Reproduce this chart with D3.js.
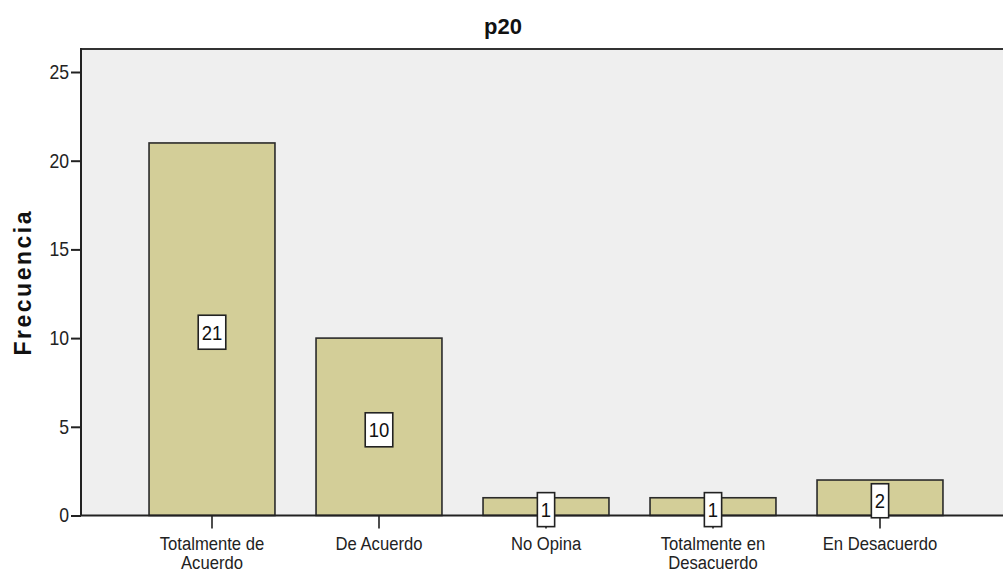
<!DOCTYPE html>
<html>
<head>
<meta charset="utf-8">
<script src="https://cdn.jsdelivr.net/npm/d3@7"></script>
<style>
  html, body { margin: 0; padding: 0; background: #fff; }
  svg { display: block; font-family: "Liberation Sans", Arial, sans-serif; }
</style>
</head>
<body>
<svg id="chart" width="1003" height="574"></svg>
<script>
// Frequency table for item p20
const categories = ["Totalmente de Acuerdo", "De Acuerdo", "No Opina", "Totalmente en Desacuerdo", "En Desacuerdo"];
const categoryLines = [["Totalmente de", "Acuerdo"], ["De Acuerdo"], ["No Opina"], ["Totalmente en", "Desacuerdo"], ["En Desacuerdo"]];
const frequencies = [21, 10, 1, 1, 2];
const yTicks = [0, 5, 10, 15, 20, 25];
const chartTitle = "p20";
const yTitle = "Frecuencia";

const svg = d3.select("#chart");
const W = 1003;
const plotLeft = 81, plotTop = 49, plotBottom = 515.5, plotRight = W;
const condense = 0.88; // horizontal squeeze for the condensed label face

const y = d3.scaleLinear().domain([0, 25]).range([plotBottom, 72]);
const x = d3.scaleBand().domain(categories).range([128.5, 963.5])
  .paddingInner(0.246).paddingOuter(0.123);

// plot background
svg.append("rect")
  .attr("x", plotLeft).attr("y", plotTop)
  .attr("width", plotRight - plotLeft).attr("height", plotBottom - plotTop)
  .attr("fill", "#efefef");

// frame: top edge
svg.append("line").attr("x1", plotLeft).attr("x2", plotRight)
  .attr("y1", plotTop).attr("y2", plotTop)
  .attr("stroke", "#333").attr("stroke-width", 2);

// bars
svg.append("g").selectAll("rect").data(frequencies).join("rect")
  .attr("x", (d, i) => x(categories[i]))
  .attr("y", d => y(d))
  .attr("width", x.bandwidth())
  .attr("height", d => y(0) - y(d))
  .attr("fill", "#d3ce98")
  .attr("stroke", "#2b2b2b")
  .attr("stroke-width", 1.6);

// y axis
const yAxis = svg.append("g")
  .attr("transform", `translate(${plotLeft},0)`)
  .call(d3.axisLeft(y).tickValues(yTicks).tickSize(10).tickPadding(0).tickSizeOuter(0));
yAxis.select(".domain").remove();
yAxis.selectAll(".tick line").attr("stroke", "#222").attr("stroke-width", 2);
yAxis.selectAll(".tick text")
  .attr("fill", "#222")
  .attr("x", null)
  .attr("transform", `translate(-12,0) scale(${condense},1)`)
  .style("font-size", "20px");
svg.append("line").attr("x1", plotLeft).attr("x2", plotLeft)
  .attr("y1", plotTop - 1).attr("y2", plotBottom)
  .attr("stroke", "#222").attr("stroke-width", 2);

// x axis
const xAxis = svg.append("g")
  .attr("transform", `translate(0,${plotBottom})`)
  .call(d3.axisBottom(x).tickSize(13).tickFormat(""));
xAxis.select(".domain").remove();
xAxis.selectAll(".tick line").attr("stroke", "#222").attr("stroke-width", 1.6);
svg.append("line").attr("x1", plotLeft).attr("x2", plotRight)
  .attr("y1", plotBottom).attr("y2", plotBottom)
  .attr("stroke", "#222").attr("stroke-width", 2);

// wrapped category labels
const lbl = svg.append("g").selectAll("text").data(categories).join("text")
  .attr("transform", d => `translate(${x(d) + x.bandwidth() / 2},550) scale(0.9,1)`)
  .attr("text-anchor", "middle")
  .attr("fill", "#222")
  .style("font-size", "18.5px");
lbl.each(function(d, i) {
  const t = d3.select(this);
  categoryLines[i].forEach((line, k) => {
    t.append("tspan").attr("x", 0)
      .attr("dy", k === 0 ? 0 : 19).text(line);
  });
});

// value labels in white boxes at mid-height of each bar
const vl = svg.append("g").selectAll("g").data(frequencies).join("g")
  .attr("transform", (d, i) => `translate(${x(categories[i]) + x.bandwidth() / 2},${y(d / 2) + 3})`);
vl.append("text")
  .attr("text-anchor", "middle")
  .attr("dy", "0.36em")
  .attr("transform", `scale(${condense},1)`)
  .attr("fill", "#111")
  .style("font-size", "21px")
  .text(d => d);
vl.each(function() {
  const g = d3.select(this);
  const bb = g.select("text").node().getBBox();
  const w = bb.width * condense + 7;
  g.insert("rect", "text")
    .attr("x", -w / 2).attr("y", -17)
    .attr("width", w).attr("height", 34)
    .attr("fill", "#fff").attr("stroke", "#222").attr("stroke-width", 1.6);
});

// title
svg.append("text").attr("x", 503).attr("y", 34)
  .attr("text-anchor", "middle").attr("fill", "#111")
  .style("font-size", "22px").style("font-weight", "bold")
  .text(chartTitle);

// y-axis title
svg.append("text")
  .attr("transform", `translate(31,${(plotTop + plotBottom) / 2}) rotate(-90)`)
  .attr("text-anchor", "middle").attr("fill", "#111")
  .style("font-size", "23px").style("font-weight", "bold")
  .style("letter-spacing", "2.5px")
  .text(yTitle);
</script>
</body>
</html>
